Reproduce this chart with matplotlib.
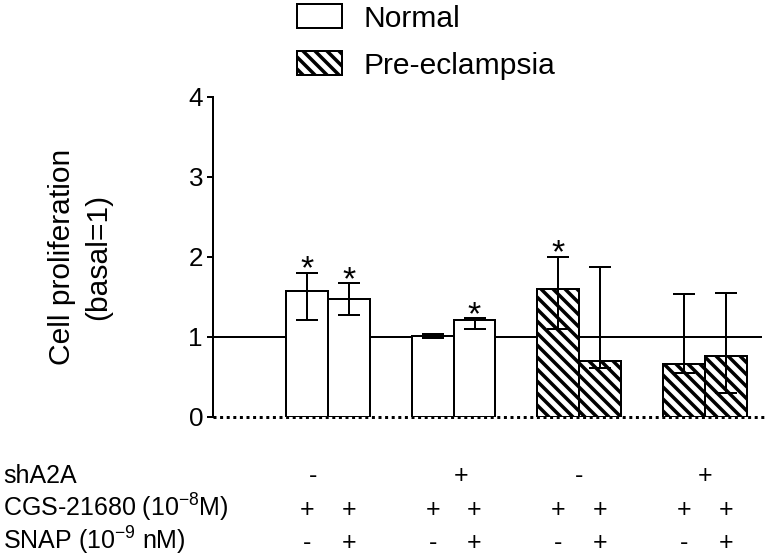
import matplotlib
matplotlib.use("Agg")
import matplotlib.pyplot as plt
import matplotlib.transforms as mtransforms
import numpy as np
from matplotlib.patches import Patch

plt.rcParams["font.family"] = ["Liberation Sans", "DejaVu Sans"]
plt.rcParams["mathtext.fontset"] = "custom"
plt.rcParams["mathtext.rm"] = "Liberation Sans"
plt.rcParams["mathtext.it"] = "Liberation Sans"
plt.rcParams["hatch.linewidth"] = 3.5

# bar data (8 bars: 2 normal groups, 2 pre-eclampsia groups)
means = [1.57, 1.47, 1.01, 1.21, 1.59, 0.69, 0.66, 0.76]
err_top = [1.80, 1.67, 1.03, 1.23, 2.00, 1.87, 1.53, 1.55]
err_bottom = [1.21, 1.27, 0.98, 1.10, 1.09, 0.61, 0.55, 0.30]
condition = ["Normal", "Normal", "Normal", "Normal",
             "Pre-eclampsia", "Pre-eclampsia", "Pre-eclampsia", "Pre-eclampsia"]
signif = [True, True, False, True, True, False, False, False]

# treatment table under the axis
sha2a = ["-", "+", "-", "+"]
cgs = ["+", "+", "+", "+", "+", "+", "+", "+"]
snap = ["-", "+", "-", "+", "-", "+", "-", "+"]
row_labels = ["shA2A", "CGS-21680 (10$^{-8}$M)", "SNAP (10$^{-9}$ nM)"]

W, H = 773, 559
fig = plt.figure(figsize=(W / 72, H / 72), dpi=72)
ax = fig.add_axes([213 / W, 1 - 416.5 / H, (762 - 213) / W, 320 / H])

x = np.array([3 * (i // 2) + (i % 2) for i in range(len(means))])
lo = np.array(means) - np.array(err_bottom)
hi = np.array(err_top) - np.array(means)

for xi, m, c in zip(x, means, condition):
    ax.bar(xi, m, width=1.0, color="white", edgecolor="black", linewidth=2,
           hatch="\\\\" if c == "Pre-eclampsia" else None, zorder=2)
ax.errorbar(x, means, yerr=[lo, hi], fmt="none", ecolor="black",
            elinewidth=2, capsize=11, capthick=2, zorder=3)

for xi, t, s in zip(x, err_top, signif):
    if s:
        ax.annotate("*", (xi, t), xytext=(0, -6), textcoords="offset points",
                    ha="center", va="baseline", fontsize=34)

ax.axhline(1.0, color="black", lw=2, zorder=1)
ax.axhline(0.0, xmax=1.006, color="black", lw=3, linestyle=(0, (1, 1.2)),
           clip_on=False, zorder=4)

ax.set_xlim(-2.24, 10.86)
ax.set_ylim(0, 4)
ax.set_yticks([0, 1, 2, 3, 4])
ax.set_xticks([])
for sp in ["top", "right", "bottom"]:
    ax.spines[sp].set_visible(False)
ax.spines["left"].set_linewidth(2)
ax.tick_params(axis="y", length=6, width=2, labelsize=26, pad=4)

fig.text(80 / W, 1 - 257 / H, "Cell proliferation\n(basal=1)", rotation=90,
         ha="center", va="center", multialignment="center", fontsize=30,
         linespacing=1.4)

handles = [Patch(facecolor="white", edgecolor="black", linewidth=2),
           Patch(facecolor="white", edgecolor="black", linewidth=2, hatch="\\\\")]
fig.legend(handles, ["Normal", "Pre-eclampsia"], loc="upper left",
           bbox_to_anchor=(297 / W, 1 - 4 / H), frameon=False, fontsize=30,
           handlelength=1.5, handleheight=0.87, handletextpad=0.7,
           labelspacing=0.62, borderpad=0, borderaxespad=0)

# table: x follows the bars, y in figure pixels
tr = mtransforms.blended_transform_factory(ax.transData, fig.transFigure)
row_y = [483, 517, 550]
for lab, yy in zip(row_labels, row_y):
    fig.text(3 / W, 1 - yy / H, lab, ha="left", va="baseline", fontsize=25)

grp_x = [0.15, 3.67, 6.5, 9.5]
for s, xx in zip(sha2a, grp_x):
    ax.text(xx, 1 - row_y[0] / H, s, transform=tr, ha="center", va="baseline", fontsize=25)
for s, xx in zip(cgs, x):
    ax.text(xx, 1 - row_y[1] / H, s, transform=tr, ha="center", va="baseline", fontsize=25)
for s, xx in zip(snap, x):
    ax.text(xx, 1 - row_y[2] / H, s, transform=tr, ha="center", va="baseline", fontsize=25)

fig.savefig("out.png", dpi=72)
